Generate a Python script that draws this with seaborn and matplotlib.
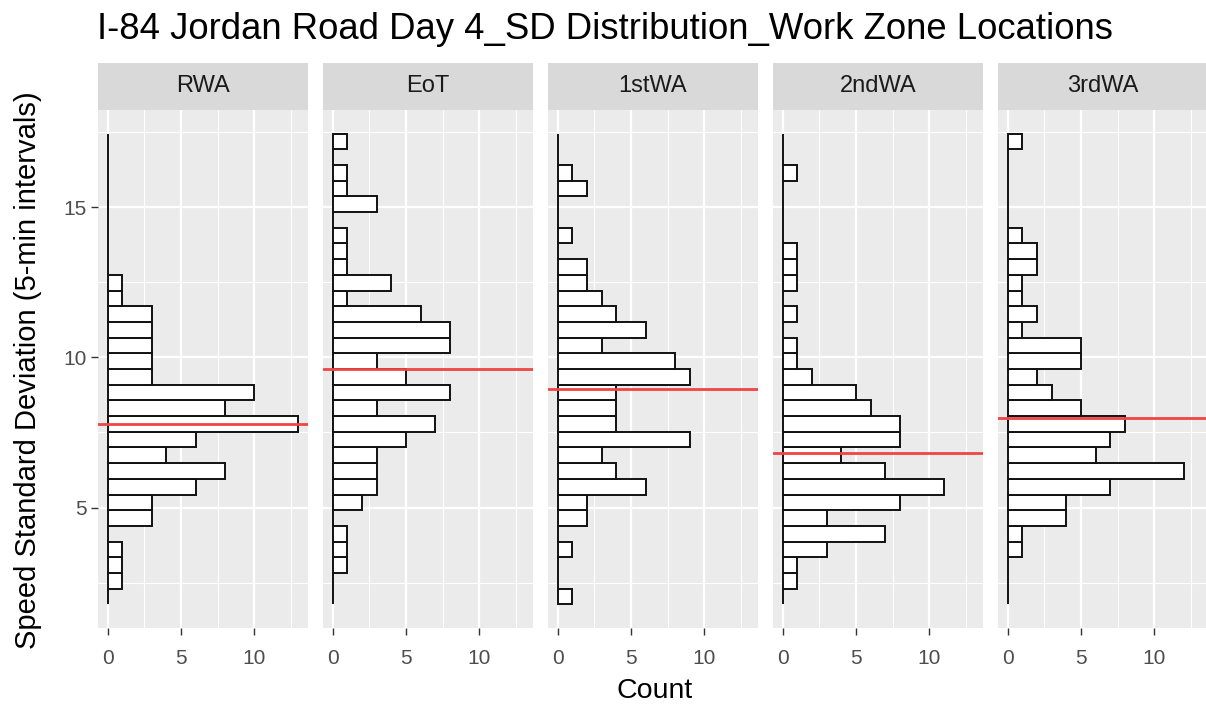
import numpy as np
import pandas as pd
import matplotlib
matplotlib.use("Agg")
import matplotlib.pyplot as plt
import seaborn as sns

# ---------------- data ----------------
locations = ["RWA", "EoT", "1stWA", "2ndWA", "3rdWA"]
n_bins = 30
bin_start = 1.77
bin_width = 0.523

# counts per bin, listed from the top bin (highest SD) down to the lowest bin
rwa_counts = [0, 0, 0, 0, 0, 0, 0, 0, 0, 1, 1, 3, 3, 3, 3, 3, 10, 8, 13, 6, 4, 8, 6, 3, 3, 0, 1, 1, 1, 0]
eot_counts = [1, 0, 1, 1, 3, 0, 1, 1, 1, 4, 1, 6, 8, 8, 3, 5, 8, 3, 7, 5, 3, 3, 3, 2, 0, 1, 1, 1, 0, 0]
wa1_counts = [0, 0, 1, 2, 0, 0, 1, 0, 2, 2, 3, 4, 6, 3, 8, 9, 4, 4, 4, 9, 3, 4, 6, 2, 2, 0, 1, 0, 0, 1]
wa2_counts = [0, 0, 1, 0, 0, 0, 0, 1, 1, 1, 0, 1, 0, 1, 1, 2, 5, 6, 8, 8, 4, 7, 11, 8, 3, 7, 3, 1, 1, 0]
wa3_counts = [1, 0, 0, 0, 0, 0, 1, 2, 2, 1, 1, 2, 1, 5, 5, 2, 3, 5, 8, 7, 6, 12, 7, 4, 4, 1, 1, 0, 0, 0]
mean_sd = [7.79, 9.63, 8.96, 6.82, 7.98]

title = "I-84 Jordan Road Day 4_SD Distribution_Work Zone Locations"
y_label = "Speed Standard Deviation (5-min intervals)"
x_label = "Count"
x_ticks = [0, 5, 10]
y_ticks = [5, 10, 15]

# ---------------- table ----------------
bin_end = bin_start + bin_width * n_bins
edges = bin_start + bin_width * np.arange(n_bins + 1)
centers = (edges[:-1] + edges[1:]) / 2
all_counts = [rwa_counts, eot_counts, wa1_counts, wa2_counts, wa3_counts]
rows = []
for loc, cnts in zip(locations, all_counts):
    for c, n in zip(centers[::-1], cnts):
        rows.append((loc, float(c), float(n)))
df = pd.DataFrame(rows, columns=["Location", "SD", "Count"])

# ---------------- style ----------------
sns.set_theme(style="darkgrid", rc={
    "axes.facecolor": "#EBEBEB",
    "grid.color": "white",
    "axes.edgecolor": "none",
    "xtick.color": "#333333",
    "ytick.color": "#333333",
    "xtick.labelcolor": "#4D4D4D",
    "ytick.labelcolor": "#4D4D4D",
})
plt.rcParams["font.family"] = ["Liberation Sans", "DejaVu Sans"]

W, H = 1206, 708
fig = plt.figure(figsize=(W / 100, H / 100), dpi=100)

panel_left0 = 98
panel_step = 225
panel_w = 210
panel_top = 110
panel_bot = 628
strip_h = 47

count_max = 13
xlim = (-0.05 * count_max, count_max * 1.05)
span = bin_end - bin_start
ylim = (bin_start - 0.05 * span, bin_end + 0.05 * span)

for i, loc in enumerate(locations):
    x0 = panel_left0 + i * panel_step
    ax = fig.add_axes([x0 / W, 1 - panel_bot / H, panel_w / W, (panel_bot - panel_top) / H])
    sub = df[df["Location"] == loc]
    sns.histplot(data=sub, y="SD", weights="Count", binwidth=bin_width,
                 binrange=(bin_start, bin_end), ax=ax,
                 color="white", edgecolor="#111111", linewidth=1.4, alpha=1)
    ax.axhline(mean_sd[i], color="#F04545", lw=2.0, zorder=5)
    ax.set_xlim(*xlim)
    ax.set_ylim(*ylim)
    ax.set_xticks(x_ticks)
    ax.set_xticks([2.5, 7.5, 12.5], minor=True)
    ax.set_yticks(y_ticks)
    ax.set_yticks([2.5, 7.5, 12.5, 17.5], minor=True)
    ax.grid(which="major", color="white", lw=1.6)
    ax.grid(which="minor", color="white", lw=0.8)
    ax.set_axisbelow(True)
    ax.tick_params(axis="both", which="major", length=5, width=1, labelsize=15,
                   bottom=True, left=(i == 0))
    ax.tick_params(axis="x", which="major", pad=10)
    ax.tick_params(axis="y", which="major", pad=3)
    ax.tick_params(which="minor", length=0)
    if i > 0:
        ax.set_yticklabels([])
    ax.set_xlabel("")
    ax.set_ylabel("")
    for s in ax.spines.values():
        s.set_visible(False)
    # strip
    sax = fig.add_axes([x0 / W, 1 - panel_top / H, panel_w / W, strip_h / H])
    sax.set_facecolor("#D9D9D9")
    sax.set_xticks([])
    sax.set_yticks([])
    sax.grid(False)
    for s in sax.spines.values():
        s.set_visible(False)
    sax.text(0.5, 0.5, loc, ha="center", va="center", fontsize=17, color="#1A1A1A",
             transform=sax.transAxes)

fig.text(97 / W, 1 - 39 / H, title, ha="left", va="baseline", fontsize=26.3, color="black")
fig.text(28 / W, 1 - 370 / H, y_label, ha="center", va="center", rotation=90, fontsize=21, color="black")
fig.text(655 / W, 1 - 691 / H, x_label, ha="center", va="center", fontsize=20.5, color="black")

fig.savefig("out.png", dpi=100)
